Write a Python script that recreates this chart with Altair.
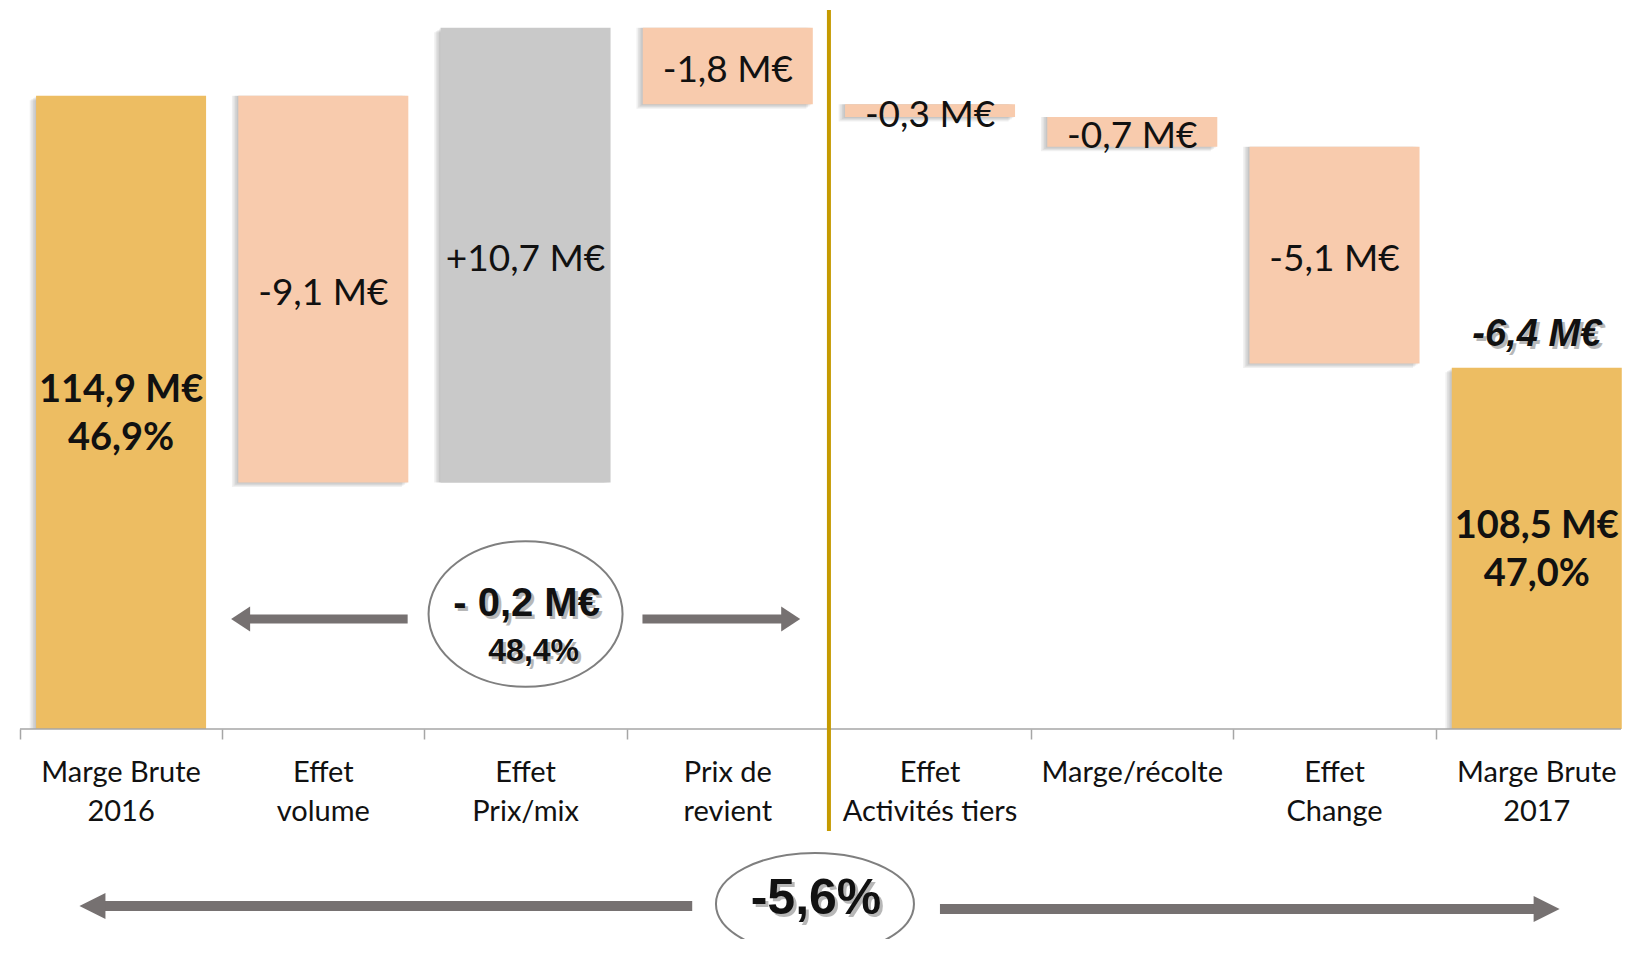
import altair as alt
import pandas as pd

# ---------------- data ----------------
categories = ["Marge Brute\n2016", "Effet\nvolume", "Effet\nPrix/mix", "Prix de\nrevient",
              "Effet\nActivités tiers", "Marge/récolte", "Effet\nChange", "Marge Brute\n2017"]
values = [114.9, -9.1, 10.7, -1.8, -0.3, -0.7, -5.1, 108.5]
kinds = ["total", "delta", "delta", "delta", "delta", "delta", "delta", "total"]
value_labels = ["114,9 M€\n46,9%", "-9,1 M€", "+10,7 M€", "-1,8 M€",
                "-0,3 M€", "-0,7 M€", "-5,1 M€", "108,5 M€\n47,0%"]
total_change_label = "-6,4 M€"
subtotal_labels = ["- 0,2 M€", "48,4%"]
overall_label = "-5,6%"
axis_floor = 100.0

# ---------------- layout / style ----------------
W, H = 1618, 721
PAD_BOTTOM = 210
STEP = 203.5
X_MIN = -0.5 - 7 / STEP
X_MAX = X_MIN + W / STEP
PX_PER_UNIT = 42.5
Y_MAX = axis_floor + H / PX_PER_UNIT
BAR_W = 170

GOLD, PEACH, GREY = "#EDBD62", "#F8CBAD", "#C9C9C9"
LINE_GOLD, ARROW, ELLIPSE, AXIS = "#C59A00", "#767171", "#7F7F7F", "#A6A6A6"
TXT = "#111111"
SANS = "Lato"
NARROW = "Liberation Sans, Arial, sans-serif"

rows = []
running = None
for i, (cat, v, k, lab) in enumerate(zip(categories, values, kinds, value_labels)):
    if k == "total":
        y0, y1 = axis_floor, v
        running = v
        kind = "total"
    else:
        y0, y1 = running, running + v
        running = y1
        kind = "neg" if v < 0 else "pos"
    rows.append(dict(idx=i, cat=cat, y0=y0, y1=y1, mid=(y0 + y1) / 2, kind=kind, label=lab))
df = pd.DataFrame(rows)

xscale = alt.Scale(domain=[X_MIN, X_MAX], nice=False, zero=False)
yscale = alt.Scale(domain=[axis_floor, Y_MAX], nice=False, zero=False)
xaxis = alt.Axis(values=[i - 0.5 for i in range(len(categories))], labels=False, domain=False,
                 ticks=True, tickSize=10, tickColor=AXIS, tickWidth=1.5, grid=False, title=None)


def X(f):
    return alt.X(f, type="quantitative", scale=xscale, axis=xaxis)


def Y(f):
    return alt.Y(f, type="quantitative", scale=yscale, axis=None)


layers = []

# bar shadows (soft, left/bottom)
for k in range(1, 5):
    layers.append(
        alt.Chart(df).mark_bar(size=BAR_W, color="#000000", opacity=0.06,
                               xOffset=-1.6 * k, yOffset=1.1 * k)
        .encode(x=X("idx"), y=Y("y1"), y2=alt.Y2("y0"))
    )

# bars
layers.append(
    alt.Chart(df).mark_bar(size=BAR_W).encode(
        x=X("idx"), y=Y("y1"), y2=alt.Y2("y0"),
        color=alt.Color("kind:N", scale=alt.Scale(domain=["total", "neg", "pos"],
                                                  range=[GOLD, PEACH, GREY]), legend=None),
    )
)

# axis baseline
dom = pd.DataFrame({"x0": [-0.5], "x1": [X_MAX], "y": [axis_floor]})
layers.append(alt.Chart(dom).mark_rule(color=AXIS, strokeWidth=1.5)
              .encode(x=X("x0"), x2=alt.X2("x1"), y=Y("y")))

# gold separator
sep = pd.DataFrame({"x": [3.5]})
layers.append(alt.Chart(sep).mark_rule(color=LINE_GOLD, strokeWidth=4)
              .encode(x=X("x"), y=alt.value(2), y2=alt.value(823)))

# category labels
layers.append(
    alt.Chart(df).mark_text(font=SANS, fontSize=29, lineBreak="\n", lineHeight=38.5,
                            baseline="alphabetic", align="center", color=TXT)
    .encode(x=X("idx"), y=alt.value(774), text="cat:N")
)

# value labels
layers.append(
    alt.Chart(df).transform_filter("datum.kind != 'total'")
    .mark_text(font=SANS, fontSize=37, baseline="middle", align="center", color=TXT, dy=5)
    .encode(x=X("idx"), y=Y("mid"), text="label:N")
)
layers.append(
    alt.Chart(df).transform_filter("datum.kind == 'total'")
    .mark_text(font=SANS, fontSize=38, fontWeight="bold", lineBreak="\n", lineHeight=48,
               baseline="middle", align="center", color=TXT, dy=-21)
    .encode(x=X("idx"), y=Y("mid"), text="label:N")
)


def shadow_text(data, x, y, **kw):
    out = []
    for shadow in (True, False):
        props = dict(kw)
        if shadow:
            props.update(color="#000000", opacity=0.28, dx=3, dy=3)
        else:
            props.update(color=TXT)
        out.append(alt.Chart(data).mark_text(align="center", baseline="middle", **props)
                   .encode(x=x, y=y, text="t:N"))
    return out


# total change above final bar
end = pd.DataFrame({"idx": [len(values) - 1], "v": [values[-1]], "t": [total_change_label]})
layers += shadow_text(end, X("idx"), Y("v"), font=NARROW, fontWeight="bold", fontStyle="italic",
                      fontSize=38, yOffset=-33)


def ellipse_path(b):
    k = 0.5523
    return (f"M -1 0 C -1 {-k*b:.4f} {-k:.4f} {-b:.4f} 0 {-b:.4f} "
            f"C {k:.4f} {-b:.4f} 1 {-k*b:.4f} 1 0 "
            f"C 1 {k*b:.4f} {k:.4f} {b:.4f} 0 {b:.4f} "
            f"C {-k:.4f} {b:.4f} -1 {k*b:.4f} -1 0 Z")


def arrow(x_from, x_tip, y_px, head_len, head_half, width):
    d = pd.DataFrame({"a": [x_from], "b": [x_tip]})
    sign = 1 if x_tip < x_from else -1
    ratio = head_len / head_half
    d["base"] = x_tip + sign * (head_len - 2) / STEP
    shaft = alt.Chart(d).mark_rule(color=ARROW, strokeWidth=width, strokeCap="butt").encode(
        x=X("a"), x2=alt.X2("base"), y=alt.value(y_px))
    head = alt.Chart(d).mark_point(
        shape=f"M 0 0 L {sign*ratio:.3f} -1 L {sign*ratio:.3f} 1 Z",
        size=(2 * head_half) ** 2, filled=True, color=ARROW, opacity=1, strokeWidth=0
    ).encode(x=X("b"), y=alt.value(y_px))
    return [shaft, head]


# sub-total annotation (ellipse + arrows)
layers += arrow(1.417, 0.544, 611, 19, 12.5, 9)
layers += arrow(2.578, 3.358, 611, 19, 12.5, 9)
e1 = pd.DataFrame({"x": [2.0]})
layers.append(alt.Chart(e1).mark_point(shape=ellipse_path(0.75), size=(2 * 97) ** 2, filled=False,
                                       stroke=ELLIPSE, strokeWidth=2, fill="white", fillOpacity=1)
              .encode(x=X("x"), y=alt.value(606)))
layers += shadow_text(pd.DataFrame({"x": [2.005], "t": [subtotal_labels[0]]}), X("x"), alt.value(596),
                      font=NARROW, fontWeight="bold", fontSize=40)
layers += shadow_text(pd.DataFrame({"x": [2.04], "t": [subtotal_labels[1]]}), X("x"), alt.value(643),
                      font=NARROW, fontWeight="bold", fontSize=32)

# overall annotation
layers += arrow(2.824, -0.206, 898, 26, 13, 10)
layers += arrow(4.049, 7.113, 901, 26, 13, 10)
e2 = pd.DataFrame({"x": [3.431]})
layers.append(alt.Chart(e2).mark_point(shape=ellipse_path(0.515), size=(2 * 99) ** 2, filled=False,
                                       stroke=ELLIPSE, strokeWidth=2, fill="white", fillOpacity=1)
              .encode(x=X("x"), y=alt.value(896)))
layers += shadow_text(pd.DataFrame({"x": [3.436], "t": [overall_label]}), X("x"), alt.value(891),
                      font=NARROW, fontWeight="bold", fontSize=50)

chart = alt.layer(*layers).properties(
    width=W, height=H,
    padding={"left": 0, "right": 0, "top": 0, "bottom": PAD_BOTTOM},
    autosize=alt.AutoSizeParams(type="none"),
).configure_view(stroke=None)

chart.save("out.html", embed_options={"renderer": "svg", "actions": False})
